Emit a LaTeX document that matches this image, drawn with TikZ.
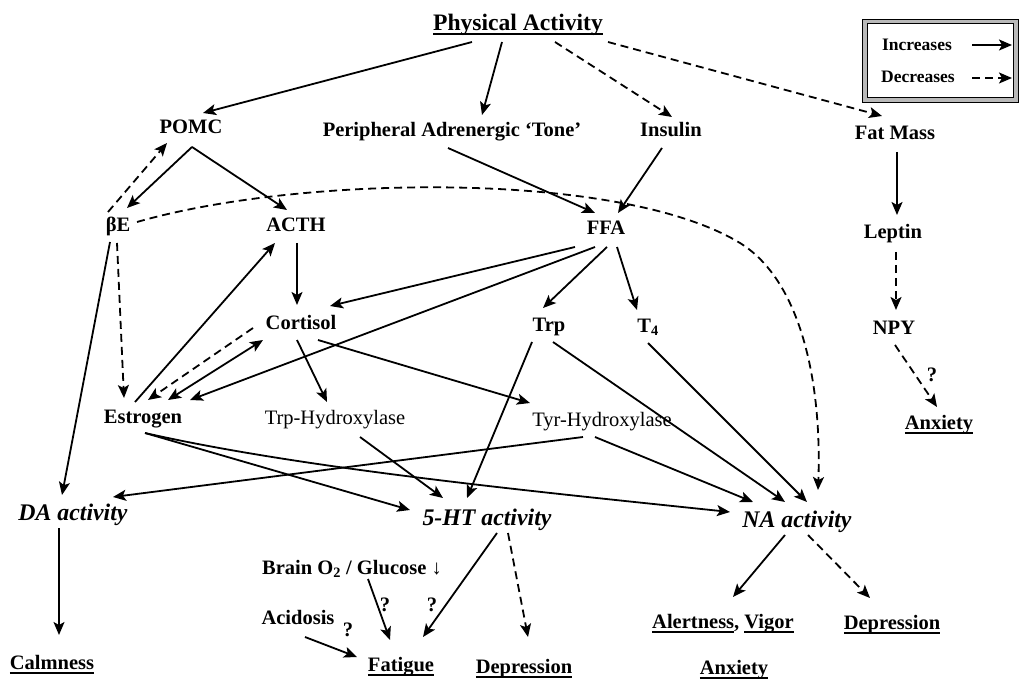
\documentclass[tikz,border=0pt]{standalone}
\usepackage{fontspec}
\setmainfont{Liberation Serif}
\usetikzlibrary{arrows.meta}
% underline drawn as a rule below the text
\newcommand\ulab[1]{\leavevmode\setbox0=\hbox{#1}\rlap{\rule[-4pt]{\wd0}{1.8pt}}\box0}

\begin{document}
\begin{tikzpicture}[x=1pt,y=-1pt,
  >={Stealth[length=13pt,width=11pt,inset=3pt]},
  every node/.style={inner sep=0pt, text depth=0pt},
  lab/.style={font=\fontsize{20.5}{24}\selectfont\bfseries, text height=13.6pt},
  reglab/.style={font=\fontsize{20.5}{24}\selectfont, text height=13.6pt},
  act/.style={font=\fontsize{23.8}{28}\selectfont\bfseries\itshape, text height=15.8pt},
  headlab/.style={font=\fontsize{23.6}{28}\selectfont\bfseries, text height=15.6pt},
  keylab/.style={font=\fontsize{17.5}{20}\selectfont\bfseries, text height=11.6pt},
  incr/.style={line width=1.8pt, ->},
  decr/.style={line width=1.8pt, ->, dash pattern=on 8pt off 5pt},
]
\useasboundingbox (0,0) rectangle (1021,679);

% legend
\draw[line width=1pt, double=gray!55, double distance=3.5pt] (865,21.5) rectangle (1016,100);
\node[keylab] (inc) at (917,45) {Increases};
\node[keylab] (dec) at (918,77) {Decreases};
\coordinate (incA) at (972,45); \coordinate (incB) at (1012,45);
\coordinate (decA) at (972,78); \coordinate (decB) at (1012,78);
\draw[incr] (incA) -- (incB);
\draw[decr] (decA) -- (decB);

% nodes
\node[headlab] (pa) at (518,23) {\ulab{Physical Activity}};
\node[lab] (pomc) at (191,127) {POMC};
\node[lab] (per) at (452,130) {Peripheral Adrenergic ‘Tone’};
\node[lab] (ins) at (671,130) {Insulin};
\node[lab] (fat) at (895,133) {Fat Mass};
\node[lab] (be) at (118,225) {βE};
\node[lab] (acth) at (296,225) {ACTH};
\node[lab] (ffa) at (606,228) {FFA};
\node[lab] (lep) at (893,232) {Leptin};
\node[lab] (cort) at (301,323) {Cortisol};
\node[lab] (trp) at (549,325) {Trp};
\node[lab] (tfour) at (648,326) {T\textsubscript{4}};
\node[lab] (npy) at (894,328) {NPY};
\node[lab] (estr) at (143,417) {Estrogen};
\node[reglab] (trph) at (335,418) {Trp-Hydroxylase};
\node[reglab] (tyrh) at (602,420) {Tyr-Hydroxylase};
\node[lab] (anxa) at (939,423) {\ulab{Anxiety}};
\node[act] (da) at (73,513) {DA activity};
\node[act] (ht) at (487,518) {5-HT activity};
\node[act] (na) at (797,520) {NA activity};
\node[lab] (brain) at (352,568) {Brain O\textsubscript{2} / Glucose {\mdseries ↓}};
\node[lab] (acid) at (298,618) {Acidosis};
\node[lab] (qa) at (385,605) {?};
\node[lab] (qb) at (432,605) {?};
\node[lab] (qc) at (348,630) {?};
\node[lab] (qd) at (932,375) {?};
\node[lab] (alert) at (723,622) {\ulab{Alertness}, \ulab{Vigor}};
\node[lab] (depb) at (892,623) {\ulab{Depression}};
\node[lab] (fatig) at (401,665) {\ulab{Fatigue}};
\node[lab] (depa) at (524,667) {\ulab{Depression}};
\node[lab] (calm) at (52,663) {\ulab{Calmness}};
\node[lab] (anxb) at (734,668) {\ulab{Anxiety}};

% from physical activity
\draw[incr] ([shift={(-46,19)}]pa.center) -- ([shift={(12,-14)}]pomc.center);
\draw[incr] ([shift={(-16,19)}]pa.center) -- ([shift={(30,-15)}]per.center);
\draw[decr] ([shift={(37,19)}]pa.center) -- ([shift={(1,-13)}]ins.center);
\draw[decr] ([shift={(90,19)}]pa.center) -- ([shift={(-13,-17)}]fat.center);

% POMC / beta-endorphin / ACTH
\draw[incr] ([shift={(1,20)}]pomc.center) -- ([shift={(9,-17)}]be.center);
\draw[incr] ([shift={(1,20)}]pomc.center) -- ([shift={(-9,-15)}]acth.center);
\draw[decr] ([shift={(-10,-13)}]be.center) -- ([shift={(-24,16)}]pomc.center);
\draw[decr] ([shift={(19,-3)}]be.center) .. controls (300,175) and (620,170) .. (740,243)
  .. controls (800,280) and (822,380) .. ([shift={(21,-30)}]na.center);
\draw[decr] ([shift={(-1,18)}]be.center) -- ([shift={(-19,-19)}]estr.center);
\draw[incr] ([shift={(-8,17)}]be.center) -- ([shift={(-11,-18)}]da.center);
\draw[incr] ([shift={(1,18)}]acth.center) -- ([shift={(-4,-18)}]cort.center);

% estrogen and cortisol
\draw[incr] ([shift={(-8,-15)}]estr.center) -- ([shift={(-21,18)}]acth.center);
\draw[decr] ([shift={(-48,5)}]cort.center) -- ([shift={(5,-17)}]estr.center);
\draw[line width=1.8pt, <->] ([shift={(25,-17)}]estr.center) -- ([shift={(-38,17)}]cort.center);

% FFA
\draw[incr] ([shift={(-4,18)}]per.center) -- ([shift={(-11,-15)}]ffa.center);
\draw[incr] ([shift={(-9,18)}]ins.center) -- ([shift={(12,-15)}]ffa.center);
\draw[incr] ([shift={(-31,19)}]ffa.center) -- ([shift={(29,-17)}]cort.center);
\draw[incr] ([shift={(-11,19)}]ffa.center) -- ([shift={(47,-17)}]estr.center);
\draw[incr] ([shift={(1,19)}]ffa.center) -- ([shift={(-6,-17)}]trp.center);
\draw[incr] ([shift={(11,19)}]ffa.center) -- ([shift={(-11,-16)}]tfour.center);

% hydroxylases
\draw[incr] ([shift={(-4,17)}]cort.center) -- ([shift={(-8,-16)}]trph.center);
\draw[incr] ([shift={(17,17)}]cort.center) -- ([shift={(-72,-17)}]tyrh.center);

% into the monoamine activities
\draw[incr] ([shift={(-17,17)}]trp.center) -- ([shift={(-20,-20)}]ht.center);
\draw[incr] ([shift={(4,17)}]trp.center) -- ([shift={(-12,-18)}]na.center);
\draw[incr] ([shift={(0,17)}]tfour.center) -- ([shift={(10,-18)}]na.center);
\draw[incr] ([shift={(-7,17)}]tyrh.center) -- ([shift={(-44,-18)}]na.center);
\draw[incr] ([shift={(-19,17)}]tyrh.center) -- ([shift={(40,-16)}]da.center);
\draw[incr] ([shift={(25,19)}]trph.center) -- ([shift={(-44,-20)}]ht.center);
\draw[incr] ([shift={(2,16)}]estr.center) -- ([shift={(-77,-8)}]ht.center);
\draw[incr] ([shift={(2,16)}]estr.center) .. controls (300,468) and (520,490) .. ([shift={(-67,-8)}]na.center);

% outcomes
\draw[incr] ([shift={(-14,15)}]da.center) -- ([shift={(7,-28)}]calm.center);
\draw[incr] ([shift={(10,15)}]ht.center) -- ([shift={(22,-28)}]fatig.center);
\draw[decr] ([shift={(21,15)}]ht.center) -- ([shift={(4,-30)}]depa.center);
\draw[incr] ([shift={(16,11)}]brain.center) -- ([shift={(-11,-25)}]fatig.center);
\draw[incr] ([shift={(7,19)}]acid.center) -- ([shift={(-44,-8)}]fatig.center);
\draw[incr] ([shift={(-12,15)}]na.center) -- ([shift={(10,-25)}]alert.center);
\draw[decr] ([shift={(11,15)}]na.center) -- ([shift={(-22,-25)}]depb.center);

% fat mass branch
\draw[incr] ([shift={(2,19)}]fat.center) -- ([shift={(4,-17)}]lep.center);
\draw[decr] ([shift={(3,20)}]lep.center) -- ([shift={(2,-18)}]npy.center);
\draw[decr] ([shift={(1,17)}]npy.center) -- ([shift={(-2,-16)}]anxa.center);
\end{tikzpicture}
\end{document}
